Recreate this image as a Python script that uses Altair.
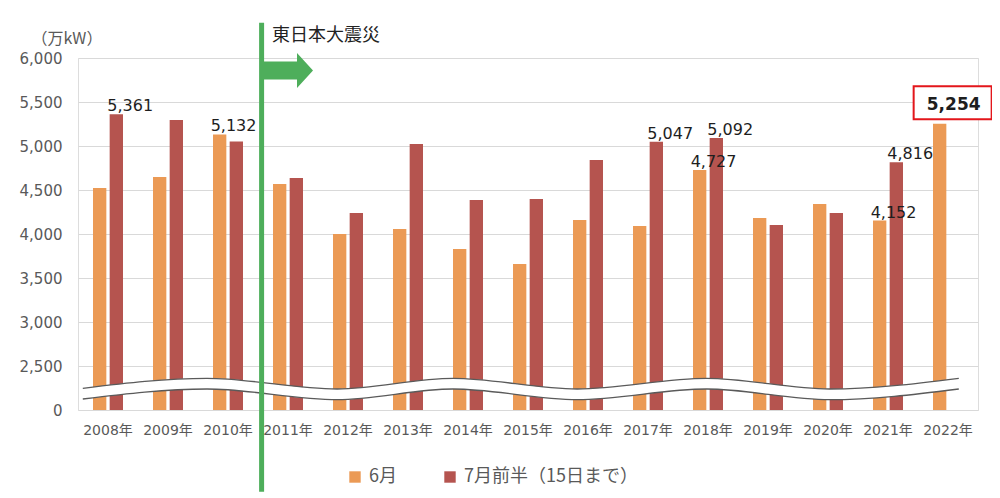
import altair as alt
import pandas as pd

# ---------------- data ----------------
years = ["2008年", "2009年", "2010年", "2011年", "2012年", "2013年", "2014年", "2015年",
         "2016年", "2017年", "2018年", "2019年", "2020年", "2021年", "2022年"]
series = ["6月", "7月前半（15日まで）"]
june = [4523, 4648, 5132, 4568, 4000, 4057, 3830, 3659, 4159, 4091, 4727, 4182, 4341, 4152, 5254]
july = [5361, 5295, 5050, 4636, 4239, 5023, 4386, 4398, 4841, 5047, 5092, 4102, 4239, 4816, None]

y_ticks = [0, 2500, 3000, 3500, 4000, 4500, 5000, 5500, 6000]

# labelled bars (year, series index)
label_years = ["2008年", "2010年", "2017年", "2018年", "2018年", "2021年", "2021年"]
label_series = [1, 0, 1, 0, 1, 0, 1]
highlight_year = "2022年"

# axis-break wave (x in category units, y in axis units)
wave_x = [0.08, 2.15, 4.32, 6.25, 8.32, 10.48, 12.53, 14.68]
wave_top = [1233, 1801, 1193, 1801, 1193, 1801, 1193, 1801]
wave_bot = [625, 1193, 585, 1193, 585, 1193, 585, 1193]

# earthquake marker
quake_x = [3.06]
quake_y1 = [6401]
quake_y2 = [-4642]
arrow_x = [3.5]
arrow_y = [5858]
quake_text = ["東日本大震災"]
quake_text_x = [3.233]
quake_text_y = [6193]

# ---------------- tables ----------------
rows = []
for i, yr in enumerate(years):
    if june[i] is not None:
        rows.append({"year": yr, "series": series[0], "value": june[i]})
    if july[i] is not None:
        rows.append({"year": yr, "series": series[1], "value": july[i]})
df = pd.DataFrame(rows)

lab = pd.DataFrame({"year": label_years, "series": [series[s] for s in label_series]})
lab = lab.merge(df, on=["year", "series"], how="left")
hl = df[(df.year == highlight_year) & (df.series == series[0])]

wave = pd.DataFrame({"wx": wave_x, "top": wave_top, "bot": wave_bot})
quake = pd.DataFrame({"gx": quake_x, "gy1": quake_y1, "gy2": quake_y2})
arrow = pd.DataFrame({"ax": arrow_x, "ay": arrow_y})
qtext = pd.DataFrame({"tx": quake_text_x, "ty": quake_text_y, "t": quake_text})

# ---------------- styles ----------------
W, H = 900, 352
NUMFONT = "DejaVu Sans, Noto Sans CJK JP"
JPFONT = "Noto Sans CJK JP"
GRAY = "#595959"
GREEN = "#4EAE5B"
colors = ["#EB9A55", "#B5544F"]
YTITLE = "（万kW）"

xband = alt.Scale(domain=years, paddingInner=0.5, paddingOuter=0.25)
xoff = alt.Scale(domain=series, paddingInner=0.2, paddingOuter=0)
yscale = alt.Scale(domain=[0, 2500, 6000], range=[H, H - 44, 0], nice=False, zero=False)
xq = alt.Scale(domain=[0, 15], nice=False, zero=False)

ARROW = "M-1,-0.36L0.36,-0.36L0.36,-0.7L1,0L0.36,0.7L0.36,0.36L-1,0.36Z"
BOX = "M-0.667,-0.962L1.333,-0.962L1.333,-0.115L-0.667,-0.115Z"

yaxis = alt.Axis(values=y_ticks, format=",.0f", domain=False, ticks=False, tickSize=0,
                 labelPadding=16, labelFontSize=15, labelColor=GRAY, labelFont=NUMFONT,
                 grid=True, gridColor="#D9D9D9", gridWidth=1,
                 titleAngle=0, titleAlign="left", titleBaseline="alphabetic",
                 titleX=-47, titleY=-15, titleFontSize=16, titleFontWeight="normal",
                 titleColor=GRAY, titleFont=JPFONT)

bars = alt.Chart(df).mark_bar().encode(
    x=alt.X("year:N", scale=xband, sort=years,
            axis=alt.Axis(title=None, labelAngle=0, domain=False, ticks=False, tickSize=0,
                          labelPadding=13, labelFontSize=14, labelColor=GRAY, labelFont=NUMFONT,
                          grid=False)),
    xOffset=alt.XOffset("series:N", scale=xoff, sort=series),
    y=alt.Y("value:Q", scale=yscale, title=YTITLE, axis=yaxis),
    color=alt.Color("series:N", scale=alt.Scale(domain=series, range=colors),
                    legend=alt.Legend(title=None, orient="none", direction="horizontal",
                                      legendX=268, legendY=410, symbolType="square",
                                      symbolSize=130, symbolStrokeWidth=0, labelFontSize=18,
                                      labelColor=GRAY, labelFont=JPFONT, labelOffset=5,
                                      labelLimit=400, columnPadding=44)),
)

band_fill = alt.Chart(wave).mark_area(color="white", opacity=1, interpolate="monotone").encode(
    x=alt.X("wx:Q", scale=xq, axis=None),
    y=alt.Y("top:Q", scale=yscale, title=YTITLE, axis=yaxis),
    y2="bot:Q",
)
line_top = alt.Chart(wave).mark_line(color="#5A5A5A", strokeWidth=1.3, interpolate="monotone").encode(
    x=alt.X("wx:Q", scale=xq, axis=None),
    y=alt.Y("top:Q", scale=yscale, title=YTITLE, axis=yaxis),
)
line_bot = alt.Chart(wave).mark_line(color="#5A5A5A", strokeWidth=1.3, interpolate="monotone").encode(
    x=alt.X("wx:Q", scale=xq, axis=None),
    y=alt.Y("bot:Q", scale=yscale, title=YTITLE, axis=yaxis),
)

green_rule = alt.Chart(quake).mark_rule(color=GREEN, strokeWidth=5).encode(
    x=alt.X("gx:Q", scale=xq, axis=None),
    y=alt.Y("gy1:Q", scale=yscale, title=YTITLE, axis=yaxis),
    y2="gy2:Q",
)
green_arrow = alt.Chart(arrow).mark_point(shape=ARROW, size=2500, filled=True, color=GREEN,
                                          opacity=1, strokeWidth=0).encode(
    x=alt.X("ax:Q", scale=xq, axis=None),
    y=alt.Y("ay:Q", scale=yscale, title=YTITLE, axis=yaxis),
)
quake_label = alt.Chart(qtext).mark_text(align="left", baseline="alphabetic", fontSize=18,
                                         font=JPFONT, color="#222222").encode(
    x=alt.X("tx:Q", scale=xq, axis=None),
    y=alt.Y("ty:Q", scale=yscale, title=YTITLE, axis=yaxis),
    text="t:N",
)

labels = alt.Chart(lab).mark_text(align="left", baseline="alphabetic", dx=-9, dy=-3,
                                  fontSize=16, font=NUMFONT, color="#1E1E1E").encode(
    x=alt.X("year:N", scale=xband, sort=years, axis=None),
    xOffset=alt.XOffset("series:N", scale=xoff, sort=series),
    y=alt.Y("value:Q", scale=yscale, title=YTITLE, axis=yaxis),
    text=alt.Text("value:Q", format=","),
)

box = alt.Chart(hl).mark_point(shape=BOX, size=6084, filled=True, fill="white",
                               stroke="#E3161B", strokeWidth=2, opacity=1).encode(
    x=alt.X("year:N", scale=xband, sort=years, axis=None),
    xOffset=alt.XOffset("series:N", scale=xoff, sort=series),
    y=alt.Y("value:Q", scale=yscale, title=YTITLE, axis=yaxis),
)
box_text = alt.Chart(hl).mark_text(align="center", baseline="alphabetic", dx=14, dy=-14,
                                   fontSize=17, fontWeight="bold", font=NUMFONT,
                                   color="#1E1E1E").encode(
    x=alt.X("year:N", scale=xband, sort=years, axis=None),
    xOffset=alt.XOffset("series:N", scale=xoff, sort=series),
    y=alt.Y("value:Q", scale=yscale, title=YTITLE, axis=yaxis),
    text=alt.Text("value:Q", format=","),
)

chart = alt.layer(
    bars, band_fill, line_top, line_bot, green_rule, green_arrow, quake_label,
    labels, box, box_text
).resolve_scale(x="independent").properties(
    width=W, height=H,
    autosize=alt.AutoSizeParams(type="none"),
    padding={"left": 70, "top": 50, "right": 14, "bottom": 90},
).configure_view(stroke=None).configure(background="white")

chart.save("out.html", embed_options={"renderer": "svg", "actions": False})
